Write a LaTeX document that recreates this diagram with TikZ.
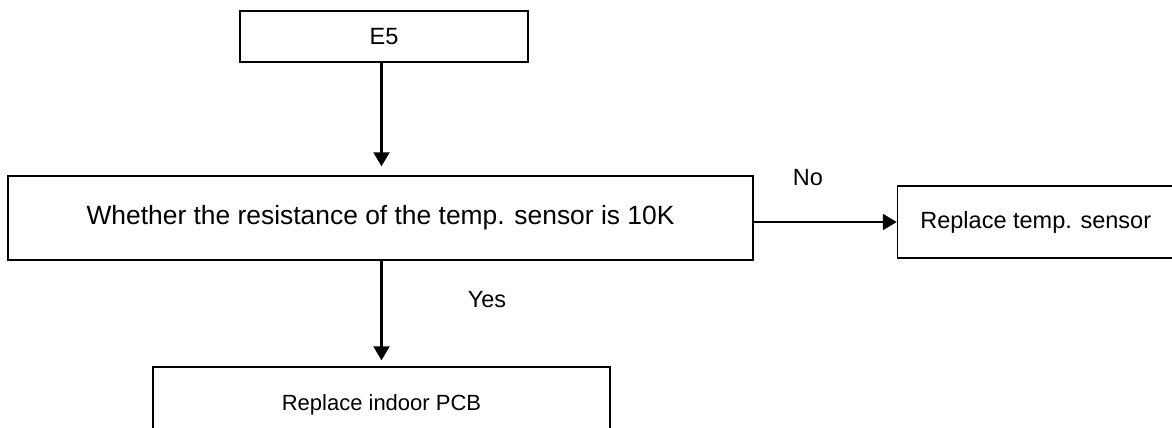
\documentclass[tikz,border=0pt]{standalone}
\usepackage{fontspec}
\setmainfont{Liberation Sans}
\usetikzlibrary{arrows.meta}
\begin{document}
\begin{tikzpicture}[x=1pt,y=-1pt,
  box/.style={draw=black, line width=1.4pt, inner sep=0pt, fill=white},
  txt/.style={font=\fontsize{23.5}{28}\selectfont},
  lbl/.style={inner sep=0pt, txt},
  arr/.style={line width=2.2pt, -{Triangle[length=14pt,width=16pt]}}]
\useasboundingbox (0,0) rectangle (1172,428);
\clip (0,0) rectangle (1172,428);
\node[box, txt, minimum width=288pt, minimum height=51pt] (e5) at (384,36.5) {E5};
\node[box, minimum width=745pt, minimum height=84pt, font=\fontsize{26.4}{31}\selectfont] (main) at (380.5,218) {Whether the resistance of the temp. sensor is 10K};
\node[box, txt, minimum width=276.5pt, minimum height=72pt] (rts) at (1035.75,222) {Replace temp. sensor};
\node[box, minimum width=457pt, minimum height=76pt, font=\fontsize{22}{26}\selectfont] (pcb) at (381.5,405) {Replace indoor PCB};
\node[lbl] (no) at (808,178) {No};
\node[lbl] (yes) at (487,300) {Yes};
\draw[arr, shorten >=9pt] (e5.south -| pcb.north) -- (main.north -| pcb.north);
\draw[arr, shorten >=6pt] (main.south -| pcb.north) -- (pcb.north);
\draw[arr] (main.east |- rts.west) -- (rts.west);
\end{tikzpicture}
\end{document}
